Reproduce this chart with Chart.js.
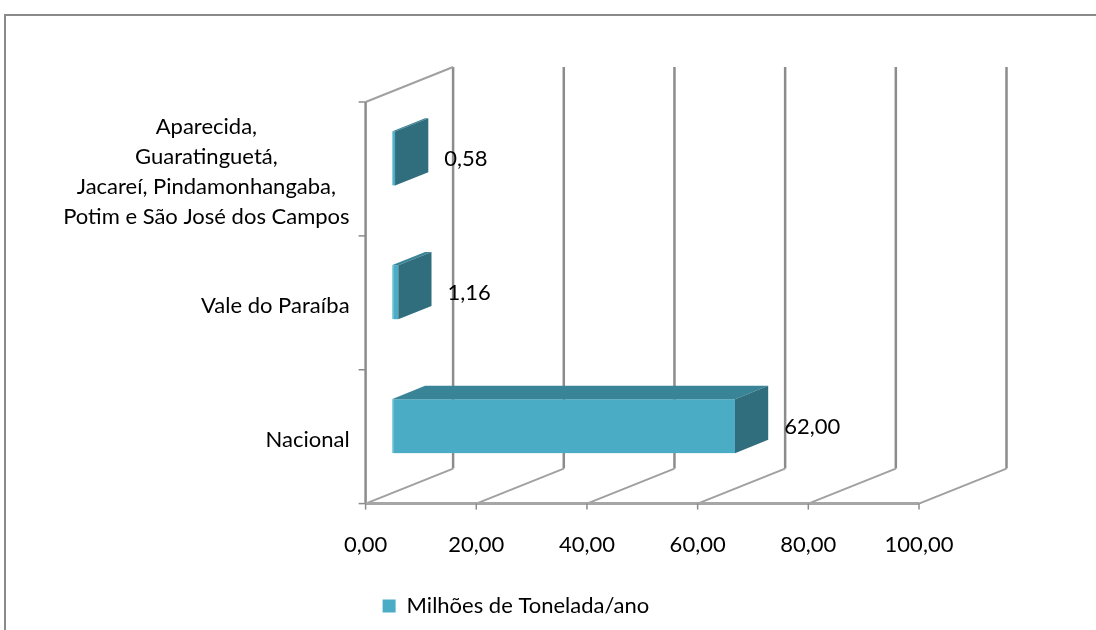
<!DOCTYPE html>
<html>
<head>
<meta charset="utf-8">
<script src="https://cdn.jsdelivr.net/npm/chart.js@4/dist/chart.umd.min.js"></script>
<style>
  html, body { margin: 0; padding: 0; background: #fff; overflow: hidden; }
</style>
</head>
<body>
<canvas id="chart" width="1096" height="630"></canvas>
<script>
const categories = [
    ['Aparecida,', 'Guaratinguetá,', 'Jacareí, Pindamonhangaba,', 'Potim e São José dos Campos'],
    'Vale do Paraíba',
    'Nacional'
];
const values = [0.58, 1.16, 62.00];
const seriesLabel = 'Milhões de Tonelada/ano';
const xTicks = [0, 20, 40, 60, 80, 100];

const FONT = 'Lato';
const FONT_SIZE = 22;
const fmt = v => v.toFixed(2).replace('.', ',');

// offset of the back wall from the front plane, and where the bars sit inside that depth
const DEPTH = { dx: 87.5, dy: -35 };
const BAR_AT = 0.3;
const BAR_DEPTH = 0.38;

function poly(ctx, pts) {
    ctx.beginPath();
    ctx.moveTo(pts[0][0], pts[0][1]);
    pts.slice(1).forEach(p => ctx.lineTo(p[0], p[1]));
    ctx.closePath();
    ctx.fill();
}

function line(ctx, x1, y1, x2, y2, color, w) {
    ctx.beginPath();
    ctx.strokeStyle = color;
    ctx.lineWidth = w;
    ctx.moveTo(x1, y1);
    ctx.lineTo(x2, y2);
    ctx.stroke();
}

const box3d = {
    id: 'box3d',
    beforeDraw(chart) {
        const ctx = chart.ctx;
        // outer chart frame
        line(ctx, 4, 15, chart.width, 15, '#8a8a8a', 2);
        line(ctx, 5, 14, 5, chart.height, '#8a8a8a', 2);
    },
    beforeDatasetsDraw(chart) {
        const ctx = chart.ctx;
        const { left, right, top, bottom } = chart.chartArea;
        const xs = chart.scales.x, ys = chart.scales.y;
        ctx.save();
        // back wall gridlines
        xTicks.forEach(v => {
            const px = xs.getPixelForValue(v) + DEPTH.dx;
            line(ctx, px, top + DEPTH.dy, px, bottom + DEPTH.dy, '#8c8c8c', 2.5);
        });
        // floor diagonals
        xTicks.forEach(v => {
            const px = xs.getPixelForValue(v);
            line(ctx, px, bottom, px + DEPTH.dx, bottom + DEPTH.dy, '#a0a0a0', 2);
        });
        // left wall top edge
        line(ctx, left, top, left + DEPTH.dx, top + DEPTH.dy, '#a0a0a0', 2);
        // front axes
        line(ctx, left, top, left, bottom, '#8c8c8c', 2.5);
        line(ctx, left, bottom, right, bottom, '#a6a6a6', 3);
        // tick marks
        xTicks.forEach(v => {
            const px = xs.getPixelForValue(v);
            line(ctx, px, bottom, px, bottom + 6, '#8c8c8c', 1.5);
        });
        for (let i = 0; i <= categories.length; i++) {
            const py = ys.getPixelForValue(i - 0.5);
            line(ctx, left - 7, py, left, py, '#8c8c8c', 1.5);
        }
        ctx.restore();
        // bars are drawn a bit into the depth
        ctx.save();
        ctx.translate(DEPTH.dx * BAR_AT, DEPTH.dy * BAR_AT);
    },
    afterDatasetsDraw(chart) {
        const ctx = chart.ctx;
        const ox = DEPTH.dx * BAR_DEPTH, oy = DEPTH.dy * BAR_DEPTH;
        const meta = chart.getDatasetMeta(0);
        meta.data.forEach(bar => {
            const { x, y, base, height } = bar.getProps(['x', 'y', 'base', 'height'], true);
            const t = y - height / 2, b = y + height / 2;
            ctx.fillStyle = '#3a8498';
            poly(ctx, [[base, t], [x, t], [x + ox, t + oy], [base + ox, t + oy]]);
            ctx.fillStyle = '#306e7e';
            poly(ctx, [[x, t], [x + ox, t + oy], [x + ox, b + oy], [x, b]]);
        });
        ctx.restore();

        ctx.save();
        ctx.fillStyle = '#000';
        ctx.font = FONT_SIZE + 'px ' + FONT;
        ctx.textBaseline = 'middle';
        // value labels
        ctx.textAlign = 'left';
        meta.data.forEach((bar, i) => {
            const { x, y } = bar.getProps(['x', 'y'], true);
            ctx.fillText(fmt(values[i]), x + DEPTH.dx * BAR_AT + ox + 16, y - 10);
        });
        // category labels, wrapped lines centred on each other
        const ys = chart.scales.y;
        const rightEdge = chart.chartArea.left - 16;
        const lh = 30.3;
        categories.forEach((c, i) => {
            const lines = Array.isArray(c) ? c : [c];
            const w = Math.max(...lines.map(s => ctx.measureText(s).width));
            const cx = rightEdge - w / 2;
            const cy = ys.getPixelForValue(i) + 3;
            ctx.textAlign = 'center';
            lines.forEach((s, k) => {
                ctx.fillText(s, cx, cy + (k - (lines.length - 1) / 2) * lh);
            });
        });
        ctx.restore();
    }
};

new Chart(document.getElementById('chart'), {
    type: 'bar',
    data: {
        labels: categories,
        datasets: [{
            label: seriesLabel,
            data: values,
            backgroundColor: '#4bacc6',
            borderColor: '#8fd0e0',
            borderWidth: { left: 2, top: 0, right: 0, bottom: 0 },
            borderSkipped: false,
            barThickness: 54
        }]
    },
    options: {
        indexAxis: 'y',
        responsive: false,
        animation: false,
        devicePixelRatio: 1,
        layout: { padding: { left: 365.6, right: 177, top: 102, bottom: 3 } },
        scales: {
            x: {
                min: 0,
                max: 100,
                grid: { display: false, drawTicks: false },
                border: { display: false },
                ticks: {
                    stepSize: 20,
                    padding: 28,
                    color: '#000',
                    font: { family: FONT, size: FONT_SIZE },
                    callback: v => fmt(v)
                },
                afterFit: s => { s.height -= 8; }
            },
            y: { display: false }
        },
        plugins: {
            tooltip: { enabled: false },
            legend: {
                position: 'bottom',
                align: 'start',
                labels: {
                    boxWidth: 13,
                    boxHeight: 13,
                    padding: 17,
                    color: '#000',
                    font: { family: FONT, size: FONT_SIZE },
                    generateLabels: chart => Chart.defaults.plugins.legend.labels.generateLabels(chart)
                        .map(l => ({ ...l, lineWidth: 0 }))
                }
            }
        }
    },
    plugins: [box3d]
});
</script>
</body>
</html>
